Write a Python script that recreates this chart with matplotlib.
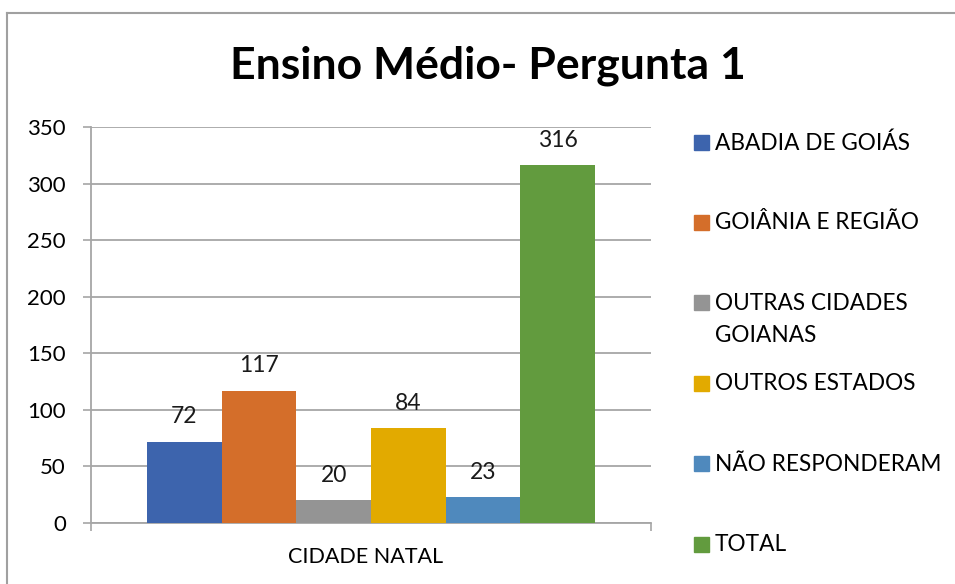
import matplotlib.pyplot as plt
from matplotlib.patches import Rectangle

categories = ['ABADIA DE GOIÁS', 'GOIÂNIA E REGIÃO', 'OUTRAS CIDADES\nGOIANAS',
              'OUTROS ESTADOS', 'NÃO RESPONDERAM', 'TOTAL']
values = [72, 117, 20, 84, 23, 316]
colors = ['#3D64AD', '#D46E2A', '#949494', '#E2AA00', '#4F89BD', '#629B3E']
group_label = 'CIDADE NATAL'
yticks = [0, 50, 100, 150, 200, 250, 300, 350]

plt.rcParams['font.family'] = ['Lato', 'DejaVu Sans']

W, H = 955, 584
fig = plt.figure(figsize=(W / 100, H / 100), dpi=100)
ax = fig.add_axes([91 / W, 1 - 523 / H, 560 / W, 396 / H])

n = len(values)
width = 0.8 / n
for i, (v, c) in enumerate(zip(values, colors)):
    x = (i - (n - 1) / 2) * width
    ax.bar(x, v, width=width, color=c, zorder=3)
    ax.text(x, v + 22, str(v), ha='center', va='center', fontsize=16.5, color='#1a1a1a')

ax.set_xlim(-0.5, 0.5)
ax.set_ylim(0, 350)
ax.set_yticks(yticks)
ax.set_yticklabels([str(t) for t in yticks], fontsize=16)
ax.set_xticks([-0.5, 0.5])
ax.set_xticklabels(['', ''])
ax.tick_params(axis='both', length=6, width=1.2, color='#a6a6a6', direction='out')
ax.tick_params(axis='y', pad=12)
ax.grid(axis='y', color='#a6a6a6', linewidth=1.3, zorder=0)
for s in ['top', 'right']:
    ax.spines[s].set_visible(False)
for s in ['left', 'bottom']:
    ax.spines[s].set_color('#a6a6a6')
    ax.spines[s].set_linewidth(1.3)

fig.text(366 / W, 1 - 557 / H, group_label, ha='center', va='center', fontsize=15.5)
fig.text(488 / W, 1 - 66 / H, 'Ensino Médio- Pergunta 1', ha='center', va='center',
         fontsize=32, fontweight='bold')

# legend on the right
for i, (lab, c) in enumerate(zip(categories, colors)):
    yc = 142 + i * 80.4
    fig.patches.append(Rectangle((694 / W, 1 - (yc + 7.5) / H), 15 / W, 15 / H,
                                 transform=fig.transFigure, color=c))
    fig.text(715 / W, 1 - (yc - 10) / H, lab, ha='left', va='top', fontsize=16.3,
             linespacing=1.65)

# chart border
fig.add_artist(plt.Line2D([7 / W, 1.0], [1 - 13 / H, 1 - 13 / H], transform=fig.transFigure,
                          color='#a0a0a0', linewidth=1.5))
fig.add_artist(plt.Line2D([7 / W, 7 / W], [0, 1 - 13 / H], transform=fig.transFigure,
                          color='#a0a0a0', linewidth=1.5))

fig.savefig('out.png', dpi=100)
